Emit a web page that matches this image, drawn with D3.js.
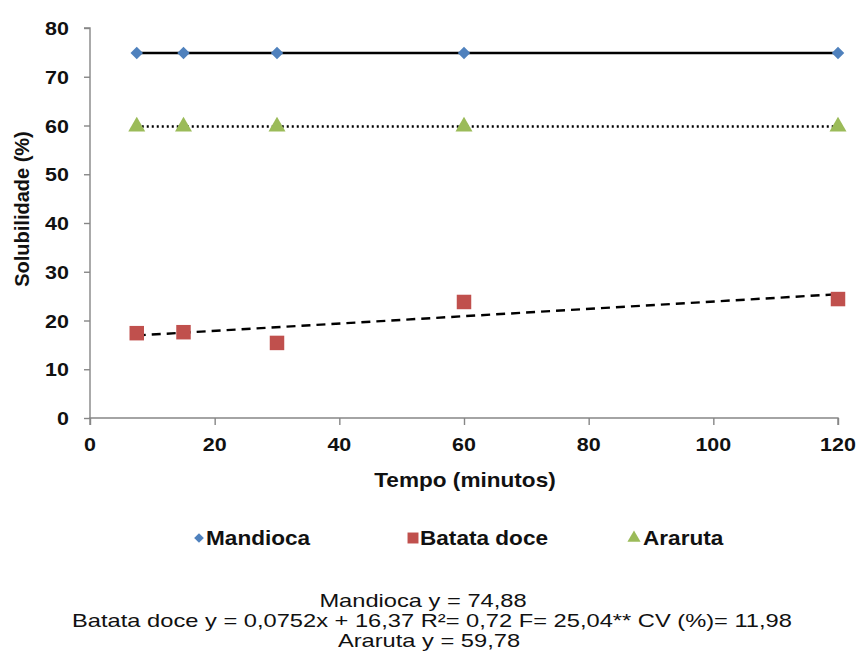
<!DOCTYPE html>
<html>
<head>
<meta charset="utf-8">
<script src="https://cdn.jsdelivr.net/npm/d3@7"></script>
<style>
  html, body { margin: 0; padding: 0; background: #fff; }
  svg { display: block; font-family: "Liberation Sans", Arial, sans-serif; }
</style>
</head>
<body>
<svg id="chart" width="859" height="666"></svg>
<script>
// Solubility (%) over time (minutes) for three starches
const tempo = [7.5, 15, 30, 60, 120];
const mandioca = [74.88, 74.88, 74.88, 74.88, 74.88];
const batataDoce = [17.4, 17.6, 15.4, 23.8, 24.4];
const araruta = [59.78, 59.78, 59.78, 59.78, 59.78];

const xTicks = [0, 20, 40, 60, 80, 100, 120];
const yTicks = [0, 10, 20, 30, 40, 50, 60, 70, 80];

// Fitted models
const mandiocaFit = { a: 0, b: 74.88 };
const batataFit = { a: 0.0752, b: 16.37 };
const ararutaFit = { a: 0, b: 59.78 };

const seriesNames = ["Mandioca", "Batata doce", "Araruta"];
const colors = { "Mandioca": "#4F81BD", "Batata doce": "#C0504D", "Araruta": "#9BBB59" };

const equations = [
  "Mandioca y = 74,88",
  "Batata doce y = 0,0752x + 16,37  R²= 0,72 F= 25,04** CV (%)= 11,98",
  "Araruta y = 59,78"
];

const svg = d3.select("#chart");
const m = { left: 90, right: 21, top: 28, bottom: 248 };
const W = 859, H = 666;

const x = d3.scaleLinear().domain([0, 120]).range([m.left, W - m.right]);
const y = d3.scaleLinear().domain([0, 80]).range([H - m.bottom, m.top]);

const axisColor = "#868686";

// horizontal text, widened by factor sx
function wideText(parent, px, py, str, opts) {
  return parent.append("text")
    .attr("transform", `translate(${px},${py}) scale(${opts.sx || 1.13},1)`)
    .attr("text-anchor", opts.anchor || "start")
    .style("font-size", opts.size + "px")
    .style("font-weight", opts.bold ? "bold" : "normal")
    .attr("fill", "#111")
    .text(str);
}

// Axes
const gx = svg.append("g").attr("transform", `translate(0,${y(0)})`)
  .call(d3.axisBottom(x).tickValues(xTicks).tickSize(7).tickFormat(""));
const gy = svg.append("g").attr("transform", `translate(${x(0)},0)`)
  .call(d3.axisLeft(y).tickValues(yTicks).tickSize(6).tickFormat(""));
[gx, gy].forEach(g => {
  g.select(".domain").attr("stroke", axisColor).attr("stroke-width", 1.4);
  g.selectAll(".tick line").attr("stroke", axisColor).attr("stroke-width", 1.4);
});
gy.select(".domain").attr("d", `M-6,${y(80)}H0V${y(0)}`);
gx.select(".domain").attr("d", `M${x(0)},7V0H${x(120)}V7`);

// Tick labels
const tl = svg.append("g");
xTicks.forEach(t => wideText(tl, x(t), y(0) + 33, d3.format("d")(t), { size: 19, bold: true, anchor: "middle" }));
yTicks.forEach(t => wideText(tl, x(0) - 21, y(t) + 7, d3.format("d")(t), { size: 19, bold: true, anchor: "end" }));

// Axis titles
wideText(svg, 465, 487, "Tempo (minutos)", { size: 20, bold: true, anchor: "middle" });
svg.append("text").attr("transform", `translate(29,209) rotate(-90)`).attr("text-anchor", "middle")
  .style("font-size", "20px").style("font-weight", "bold").attr("fill", "#111").text("Solubilidade (%)");

// Trend lines
const x0 = d3.min(tempo), x1 = d3.max(tempo);
function trend(fit, dash) {
  svg.append("line")
    .attr("x1", x(x0)).attr("y1", y(fit.a * x0 + fit.b))
    .attr("x2", x(x1)).attr("y2", y(fit.a * x1 + fit.b))
    .attr("stroke", "#000").attr("stroke-width", 2.4)
    .attr("stroke-dasharray", dash);
}
trend(mandiocaFit, null);
trend(ararutaFit, "2,3");
trend(batataFit, "9,6");

// Markers
const symType = { "Mandioca": d3.symbolDiamond2, "Batata doce": d3.symbolSquare, "Araruta": d3.symbolTriangle };
const symSize = { "Mandioca": 100, "Batata doce": 210, "Araruta": 125 };
const dataBy = { "Mandioca": mandioca, "Batata doce": batataDoce, "Araruta": araruta };
seriesNames.forEach(name => {
  svg.append("g").selectAll("path").data(tempo).join("path")
    .attr("d", d3.symbol().type(symType[name]).size(symSize[name])())
    .attr("transform", (t, i) => `translate(${x(t)},${y(dataBy[name][i])})`)
    .attr("fill", colors[name]);
});

// Legend
const legendPos = { "Mandioca": [199, 206], "Batata doce": [413, 420], "Araruta": [634, 643] };
const legendSize = { "Mandioca": 60, "Batata doce": 120, "Araruta": 75 };
const lg = svg.append("g");
seriesNames.forEach(name => {
  const [sx, tx] = legendPos[name];
  lg.append("path").attr("d", d3.symbol().type(symType[name]).size(legendSize[name])())
    .attr("transform", `translate(${sx},538)`).attr("fill", colors[name]);
  wideText(lg, tx, 545, name, { size: 20, bold: true });
});

// Equations
const eqX = [423, 432, 429];
equations.forEach((d, i) => wideText(svg, eqX[i], 607 + i * 20, d, { size: 18.5, sx: 1.28, anchor: "middle" }));
</script>
</body>
</html>
